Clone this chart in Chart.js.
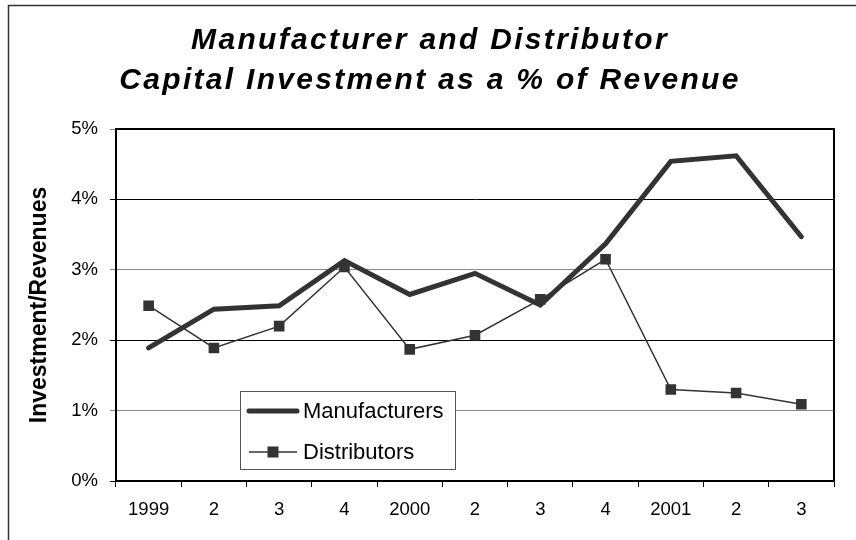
<!DOCTYPE html>
<html>
<head>
<meta charset="utf-8">
<script src="https://cdn.jsdelivr.net/npm/chart.js@4"></script>
<style>
  html, body { margin: 0; padding: 0; background: #fff; }
  canvas { display: block; }
</style>
</head>
<body>
<canvas id="grafico" width="856" height="540"></canvas>
<script>
// valores (% da receita)
const quarters = ["1999", "2", "3", "4", "2000", "2", "3", "4", "2001", "2", "3"];
const manufacturers = [1.89, 2.44, 2.49, 3.13, 2.65, 2.95, 2.50, 3.37, 4.54, 4.62, 3.47];
const distributors = [2.49, 1.89, 2.20, 3.04, 1.87, 2.07, 2.58, 3.15, 1.30, 1.25, 1.09];
const yTicks = [0, 1, 2, 3, 4, 5];
const titleLines = ["Manufacturer and Distributor", "Capital Investment as a % of Revenue"];

const FONT = "'Liberation Sans', Arial, sans-serif";

// moldura externa, título e borda da área do gráfico
const frame = {
  id: "frame",
  beforeDraw(chart) {
    const ctx = chart.ctx;
    ctx.save();
    ctx.fillStyle = "#fff";
    ctx.fillRect(0, 0, chart.width, chart.height);
    ctx.strokeStyle = "#333";
    ctx.lineWidth = 1.5;
    ctx.strokeRect(8.5, 5.5, 900, 600);
    // título com espaçamento entre letras
    ctx.fillStyle = "#000";
    ctx.font = "italic bold 30px " + FONT;
    ctx.textAlign = "center";
    ctx.textBaseline = "alphabetic";
    ctx.letterSpacing = "2.3px";
    titleLines.forEach((t, i) => ctx.fillText(t, 430, 49 + i * 40));
    ctx.letterSpacing = "0px";
    ctx.restore();
  },
  afterDatasetsDraw(chart) {
    const a = chart.chartArea;
    const ctx = chart.ctx;
    ctx.save();
    ctx.strokeStyle = "#000";
    ctx.lineWidth = 2;
    ctx.strokeRect(a.left, a.top, a.right - a.left, a.bottom - a.top);
    ctx.restore();
  }
};

// legenda dentro da área do gráfico
const innerLegend = {
  id: "innerLegend",
  afterDraw(chart) {
    const ctx = chart.ctx;
    const x = 240, y = 391, w = 215, h = 78;
    ctx.save();
    ctx.fillStyle = "#fff";
    ctx.fillRect(x, y, w, h);
    ctx.strokeStyle = "#555";
    ctx.lineWidth = 1;
    ctx.strokeRect(x + 0.5, y + 0.5, w, h);
    ctx.font = "22px " + FONT;
    ctx.textBaseline = "alphabetic";
    chart.data.datasets.forEach((ds, i) => {
      const ly = y + 20 + i * 41;
      ctx.strokeStyle = ds.borderColor;
      ctx.lineWidth = ds.borderWidth;
      ctx.lineCap = ds.borderCapStyle || "butt";
      ctx.beginPath();
      ctx.moveTo(x + 9, ly);
      ctx.lineTo(x + 57, ly);
      ctx.stroke();
      if (ds.pointRadius > 0) {
        ctx.fillStyle = ds.pointBackgroundColor;
        ctx.fillRect(x + 27.5, ly - 5.5, 11, 11);
      }
      ctx.fillStyle = "#000";
      ctx.fillText(ds.label, x + 63, ly + 7);
    });
    ctx.restore();
  }
};

new Chart(document.getElementById("grafico"), {
  type: "line",
  data: {
    labels: quarters,
    datasets: [
      {
        label: "Manufacturers",
        data: manufacturers,
        borderColor: "#333",
        borderWidth: 5,
        borderCapStyle: "round",
        pointRadius: 0,
        order: 1
      },
      {
        label: "Distributors",
        data: distributors,
        borderColor: "#333",
        borderWidth: 1.5,
        pointStyle: "rect",
        pointRadius: 7.5,
        pointBorderWidth: 0,
        pointBackgroundColor: "#333",
        order: 0
      }
    ]
  },
  options: {
    responsive: false,
    animation: false,
    devicePixelRatio: 1,
    layout: { padding: { left: 20, right: 22, top: 129, bottom: 10 } },
    plugins: {
      legend: { display: false },
      tooltip: { enabled: false },
      title: { display: false }
    },
    scales: {
      x: {
        offset: true,
        grid: { drawOnChartArea: false, offset: true, tickLength: 6, color: "#000" },
        border: { color: "#000", width: 2 },
        ticks: { color: "#000", padding: 12, font: { family: FONT, size: 18.5 }, maxRotation: 0, autoSkip: false },
        afterFit(scale) { scale.height = 49; }
      },
      y: {
        min: 0,
        max: 5,
        afterBuildTicks(scale) { scale.ticks = yTicks.map(v => ({ value: v })); },
        grid: {
          tickLength: 6,
          color: ctx => (ctx.tick && ctx.tick.value % 2 === 1 ? "#888" : "#000"),
          lineWidth: 1
        },
        border: { color: "#000", width: 2 },
        ticks: { color: "#000", padding: 12, font: { family: FONT, size: 18.5 }, callback: v => v + "%" },
        title: {
          display: true,
          text: "Investment/Revenues",
          color: "#000",
          font: { family: FONT, size: 23, weight: "bold" },
          padding: { top: 6, bottom: 0 }
        },
        afterFit(scale) { scale.width = 96; }
      }
    }
  },
  plugins: [frame, innerLegend]
});
</script>
</body>
</html>
